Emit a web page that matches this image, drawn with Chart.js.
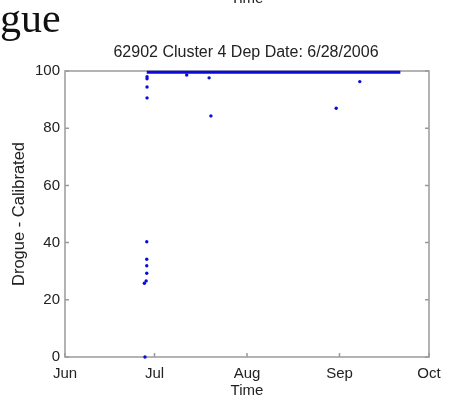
<!DOCTYPE html>
<html><head><meta charset="utf-8">
<script src="https://cdn.jsdelivr.net/npm/chart.js@4"></script>
<style>
html,body{margin:0;padding:0;background:#fff;overflow:hidden}
#wrap{position:relative;width:451px;height:403px;overflow:hidden}
canvas{position:absolute;left:0;top:0}
.t{position:absolute;white-space:nowrap;font-family:"Liberation Sans",Arial,sans-serif;color:#222}
</style></head><body>
<div id="wrap">
<canvas id="c" width="451" height="403"></canvas>
<div class="t" style="left:0;top:-3px;font-family:'Liberation Serif','Times New Roman',serif;font-size:42px;line-height:42px;color:#111">gue</div>
<div class="t" style="left:247px;top:-10px;transform:translateX(-50%);font-size:15px;line-height:15px">Time</div>
<div class="t" style="left:246px;top:44px;transform:translateX(-50%);font-size:16px;line-height:16px">62902 Cluster 4 Dep Date: 6/28/2006</div>
</div>
<script>
// Days counted from Jun 1, 2006
const xTickDays = [0, 30, 61, 92, 122];
const xTickLabels = ['Jun', 'Jul', 'Aug', 'Sep', 'Oct'];
const yTickValues = [0, 20, 40, 60, 80, 100];

// continuous near-100 record (dense points forming a line)
const lineDays = [27.4, 112.4];
const lineValues = [99.6, 99.6];

// isolated scatter points
const pointDays = [26.8, 27.4, 27.4, 27.4, 27.4, 27.2, 26.6, 27.5, 27.5, 27.5, 27.5, 40.8, 48.3, 48.9, 90.9, 98.8];
const pointValues = [0, 40.3, 34.2, 31.9, 29.3, 26.6, 25.8, 98.0, 97.3, 94.4, 90.6, 98.6, 97.6, 84.3, 87.0, 96.3];

const BLUE = 'rgb(10,10,220)';

const boxPlugin = {
  id: 'box',
  beforeDatasetsDraw(chart) {
    const {ctx, chartArea: a, scales: {x, y}} = chart;
    ctx.save();
    ctx.strokeStyle = '#9a9a9a';
    ctx.lineWidth = 1.5;
    ctx.strokeRect(a.left, a.top, a.right - a.left, a.bottom - a.top);
    const tl = 4;
    ctx.beginPath();
    y.ticks.forEach(t => {
      const py = y.getPixelForValue(t.value);
      ctx.moveTo(a.left, py); ctx.lineTo(a.left + tl, py);
      ctx.moveTo(a.right, py); ctx.lineTo(a.right - tl, py);
    });
    x.ticks.forEach(t => {
      const px = x.getPixelForValue(t.value);
      ctx.moveTo(px, a.bottom); ctx.lineTo(px, a.bottom - tl);
    });
    ctx.stroke();
    ctx.restore();
  }
};

const font = {family: "'Liberation Sans', Arial, sans-serif", size: 15};

new Chart(document.getElementById('c'), {
  type: 'scatter',
  data: {
    datasets: [
      {
        type: 'line',
        data: lineDays.map((d, i) => ({x: d, y: lineValues[i]})),
        borderColor: BLUE,
        borderWidth: 3,
        pointRadius: 0,
        fill: false,
        clip: false
      },
      {
        data: pointDays.map((d, i) => ({x: d, y: pointValues[i]})),
        backgroundColor: BLUE,
        borderColor: BLUE,
        borderWidth: 0,
        pointRadius: 1.7,
        clip: false
      }
    ]
  },
  options: {
    responsive: false,
    devicePixelRatio: 1,
    animation: false,
    events: [],
    layout: {padding: {top: 71, right: 22, bottom: 0, left: 0}},
    plugins: {legend: {display: false}, tooltip: {enabled: false}, title: {display: false}},
    scales: {
      x: {
        type: 'linear',
        min: 0, max: 122,
        afterBuildTicks: s => { s.ticks = xTickDays.map(v => ({value: v})); },
        afterFit: s => { s.height = 46; },
        grid: {display: false, drawTicks: false},
        border: {display: false},
        ticks: {
          font, color: '#222', padding: 8, maxRotation: 0, autoSkip: false,
          callback: v => xTickLabels[xTickDays.indexOf(v)]
        },
        title: {display: true, text: 'Time', font: {family: font.family, size: 15}, color: '#222', padding: {top: 0, bottom: 3}}
      },
      y: {
        type: 'linear',
        min: 0, max: 100,
        afterBuildTicks: s => { s.ticks = yTickValues.map(v => ({value: v})); },
        afterFit: s => { s.width = 65; },
        grid: {display: false, drawTicks: false},
        border: {display: false},
        ticks: {font, color: '#222', padding: 5},
        title: {display: true, text: 'Drogue - Calibrated', font: {family: font.family, size: 16.5}, color: '#222', padding: {top: 10, bottom: 0}}
      }
    }
  },
  plugins: [boxPlugin]
});
</script>
</body></html>
